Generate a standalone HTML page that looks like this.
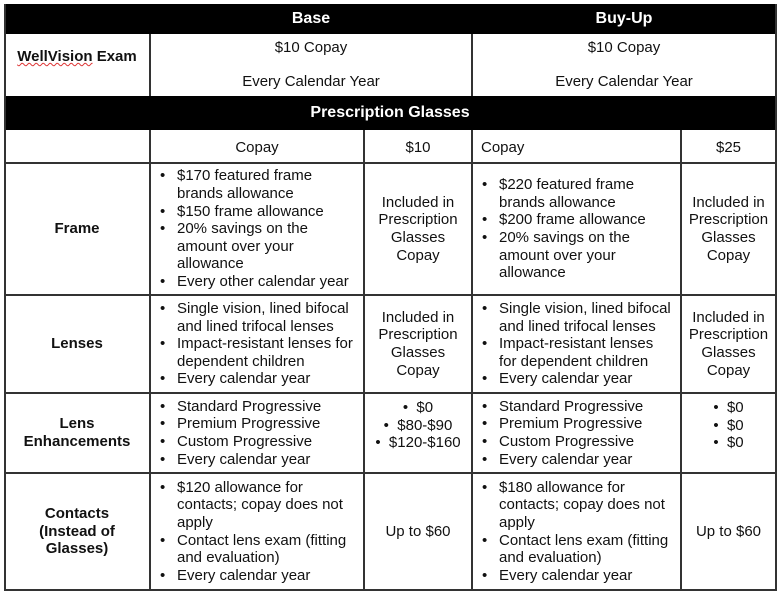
<!DOCTYPE html>
<html><head><style>
body{margin:0;background:#fff;width:780px;height:600px;position:relative;font-family:"Liberation Sans",Arial,sans-serif;font-size:15px;color:#111;overflow:hidden}
.c{position:absolute;box-sizing:border-box;display:flex;align-items:center;justify-content:center;text-align:center;line-height:17.6px;white-space:nowrap}
.b{font-weight:bold}
.h{background:#000;color:#fff;font-weight:bold;font-size:16px}
.l{position:absolute;background:#333}
ul{margin:0;padding:0 0 0 27px;text-align:left;list-style:none}
li{position:relative}
li:before{content:"•";position:absolute;left:-17px}
.cell{justify-content:flex-start}
</style></head><body>
<div class="c h" style="left:4px;top:4px;width:772px;height:30px"></div>
<div class="c h" style="left:150px;top:4px;width:322px;height:30px">Base</div>
<div class="c h" style="left:472px;top:4px;width:304px;height:30px">Buy-Up</div>
<div class="c b" style="left:4px;top:34px;width:146px;height:46px"><span style="text-decoration:underline wavy #d33;text-decoration-thickness:1px">WellVision</span>&nbsp;Exam</div>
<div class="c" style="left:150px;top:34px;width:322px;height:62px;line-height:34px">$10 Copay<br>Every Calendar Year</div>
<div class="c" style="left:472px;top:34px;width:304px;height:62px;line-height:34px">$10 Copay<br>Every Calendar Year</div>
<div class="c h" style="left:4px;top:96px;width:772px;height:34px">Prescription Glasses</div>
<div class="c" style="left:150px;top:130px;width:214px;height:35px">Copay</div>
<div class="c" style="left:364px;top:130px;width:108px;height:35px">$10</div>
<div class="c" style="left:472px;top:130px;width:209px;height:35px;justify-content:flex-start;padding-left:9px">Copay</div>
<div class="c" style="left:681px;top:130px;width:95px;height:35px">$25</div>

<div class="c b" style="left:4px;top:163px;width:146px;height:132px">Frame</div>
<div class="c cell" style="left:150px;top:163px;width:214px;height:132px"><ul><li>$170 featured frame<br>brands allowance</li><li>$150 frame allowance</li><li>20% savings on the<br>amount over your<br>allowance</li><li>Every other calendar year</li></ul></div>
<div class="c" style="left:364px;top:163px;width:108px;height:132px">Included in<br>Prescription<br>Glasses<br>Copay</div>
<div class="c cell" style="left:472px;top:163px;width:209px;height:132px"><ul><li>$220 featured frame<br>brands allowance</li><li>$200 frame allowance</li><li>20% savings on the<br>amount over your<br>allowance</li></ul></div>
<div class="c" style="left:681px;top:163px;width:95px;height:132px">Included in<br>Prescription<br>Glasses<br>Copay</div>

<div class="c b" style="left:4px;top:295px;width:146px;height:98px">Lenses</div>
<div class="c cell" style="left:150px;top:295px;width:214px;height:98px"><ul><li>Single vision, lined bifocal<br>and lined trifocal lenses</li><li>Impact-resistant lenses for<br>dependent children</li><li>Every calendar year</li></ul></div>
<div class="c" style="left:364px;top:295px;width:108px;height:98px">Included in<br>Prescription<br>Glasses<br>Copay</div>
<div class="c cell" style="left:472px;top:295px;width:209px;height:98px"><ul><li>Single vision, lined bifocal<br>and lined trifocal lenses</li><li>Impact-resistant lenses<br>for dependent children</li><li>Every calendar year</li></ul></div>
<div class="c" style="left:681px;top:295px;width:95px;height:98px">Included in<br>Prescription<br>Glasses<br>Copay</div>

<div class="c b" style="left:4px;top:393px;width:146px;height:80px">Lens<br>Enhancements</div>
<div class="c cell" style="left:150px;top:393px;width:214px;height:80px"><ul><li>Standard Progressive</li><li>Premium Progressive</li><li>Custom Progressive</li><li>Every calendar year</li></ul></div>
<div class="c" style="left:364px;top:393px;width:108px;height:80px;align-items:flex-start;padding-top:6px">&bull;&nbsp;&nbsp;$0<br>&bull;&nbsp;&nbsp;$80-$90<br>&bull;&nbsp;&nbsp;$120-$160</div>
<div class="c cell" style="left:472px;top:393px;width:209px;height:80px"><ul><li>Standard Progressive</li><li>Premium Progressive</li><li>Custom Progressive</li><li>Every calendar year</li></ul></div>
<div class="c" style="left:681px;top:393px;width:95px;height:80px;align-items:flex-start;padding-top:6px">&bull;&nbsp;&nbsp;$0<br>&bull;&nbsp;&nbsp;$0<br>&bull;&nbsp;&nbsp;$0</div>

<div class="c b" style="left:4px;top:473px;width:146px;height:117px">Contacts<br>(Instead of<br>Glasses)</div>
<div class="c cell" style="left:150px;top:473px;width:214px;height:117px"><ul><li>$120 allowance for<br>contacts; copay does not<br>apply</li><li>Contact lens exam (fitting<br>and evaluation)</li><li>Every calendar year</li></ul></div>
<div class="c" style="left:364px;top:473px;width:108px;height:117px">Up to $60</div>
<div class="c cell" style="left:472px;top:473px;width:209px;height:117px"><ul><li>$180 allowance for<br>contacts; copay does not<br>apply</li><li>Contact lens exam (fitting<br>and evaluation)</li><li>Every calendar year</li></ul></div>
<div class="c" style="left:681px;top:473px;width:95px;height:117px">Up to $60</div>

<div class="l" style="left:4px;top:4px;width:2px;height:587px"></div>
<div class="l" style="left:775px;top:4px;width:2px;height:587px"></div>
<div class="l" style="left:149px;top:34px;width:2px;height:62px"></div>
<div class="l" style="left:149px;top:130px;width:2px;height:461px"></div>
<div class="l" style="left:471px;top:34px;width:2px;height:62px"></div>
<div class="l" style="left:471px;top:130px;width:2px;height:461px"></div>
<div class="l" style="left:363px;top:130px;width:2px;height:461px"></div>
<div class="l" style="left:680px;top:130px;width:2px;height:461px"></div>
<div class="l" style="left:4px;top:162px;width:773px;height:2px"></div>
<div class="l" style="left:4px;top:294px;width:773px;height:2px"></div>
<div class="l" style="left:4px;top:392px;width:773px;height:2px"></div>
<div class="l" style="left:4px;top:472px;width:773px;height:2px"></div>
<div class="l" style="left:4px;top:589px;width:773px;height:2px"></div>
</body></html>
